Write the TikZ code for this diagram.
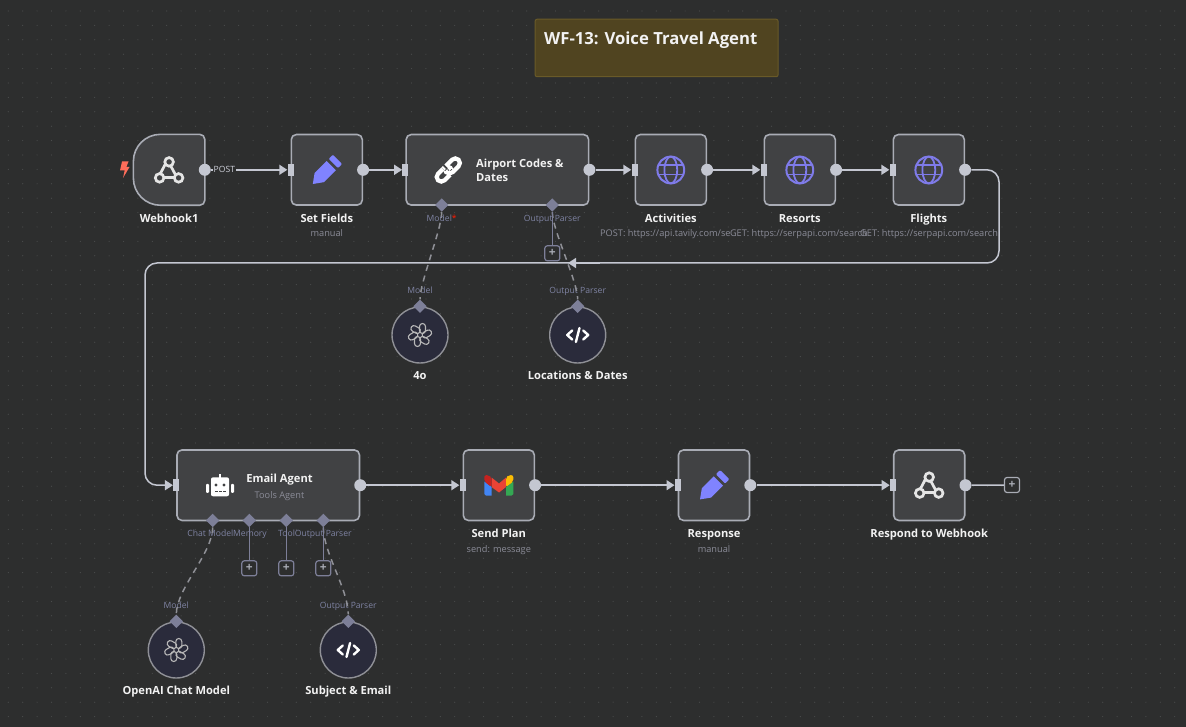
\documentclass[tikz,border=0pt]{standalone}
\usepackage{fontspec}
\setmainfont{Open Sans}
\usetikzlibrary{arrows.meta,shapes.geometric}

\definecolor{canvasbg}{HTML}{2D2E2E}
\definecolor{griddot}{HTML}{4A4C4C}
\definecolor{nodefill}{HTML}{414244}
\definecolor{nodeline}{HTML}{A9ACB5}
\definecolor{flowline}{HTML}{C4C7D1}
\definecolor{subtext}{HTML}{8B8C98}
\definecolor{porttext}{HTML}{7F83A3}
\definecolor{portfill}{HTML}{7D7F98}
\definecolor{roundfill}{HTML}{2A2B3B}
\definecolor{roundline}{HTML}{8F9096}
\definecolor{iconpurple}{HTML}{8083FF}
\definecolor{globepurple}{HTML}{7F7BEA}
\definecolor{notefill}{HTML}{504420}
\definecolor{noteline}{HTML}{695A28}
\definecolor{boltred}{HTML}{FF6D5A}
\definecolor{gmailblue}{HTML}{4285F4}
\definecolor{gmailgreen}{HTML}{34A853}
\definecolor{gmailred}{HTML}{EA4335}
\definecolor{gmaildark}{HTML}{C5221F}
\definecolor{gmailyellow}{HTML}{FBBC04}

\begin{document}
\begin{tikzpicture}[x=1pt, y=-1pt]
    % Define styles
    \tikzset{
        mainnode/.style={
            draw=nodeline,
            fill=nodefill,
            line width=1.6pt,
            rounded corners=5pt,
            minimum width=71pt,
            minimum height=70.5pt,
            inner sep=0pt
        },
        widenode/.style={
            mainnode,
            minimum width=182.5pt
        },
        roundnode/.style={
            circle,
            draw=roundline,
            fill=roundfill,
            line width=1.4pt,
            minimum size=56pt,
            inner sep=0pt
        },
        title/.style={
            font=\fontsize{11.15}{14}\selectfont\bfseries,
            text=white!95!black,
            inner sep=0pt,
            anchor=base
        },
        subtitle/.style={
            font=\fontsize{9.2}{12}\selectfont,
            text=subtext,
            inner sep=0pt,
            anchor=base
        },
        portlabel/.style={
            font=\fontsize{8.6}{11}\selectfont,
            text=porttext,
            inner sep=0pt,
            anchor=base
        },
        outport/.style={
            circle,
            fill=flowline,
            minimum size=12pt,
            inner sep=0pt
        },
        inport/.style={
            rectangle,
            fill=flowline,
            minimum width=6pt,
            minimum height=12pt,
            inner sep=0pt
        },
        subport/.style={
            diamond,
            fill=portfill,
            minimum size=13.5pt,
            inner sep=0pt
        },
        plusbox/.style={
            draw=portfill,
            fill=canvasbg,
            line width=1.2pt,
            rounded corners=2.5pt,
            minimum size=15pt,
            inner sep=0pt,
            text=nodeline,
            font=\fontsize{12}{12}\selectfont\bfseries
        },
        flow/.style={
            draw=flowline,
            line width=1.5pt,
            -{Triangle[length=8pt,width=10pt]}
        },
        plainflow/.style={
            draw=flowline,
            line width=1.5pt
        },
        subflow/.style={
            draw=roundline,
            line width=1.5pt,
            dash pattern=on 6pt off 5pt
        },
        substub/.style={
            draw=portfill,
            line width=1.5pt
        },
        pics/pencilicon/.style={code={
            \fill[iconpurple, line join=round] (-14,14) -- (-12.2,3) -- (-0.2,-9) -- (9,0.2) -- (-3,12.2) -- cycle;
            \fill[iconpurple, rounded corners=1pt] (1.9,-11.1) -- (6.1,-15.3) -- (15.3,-6.1) -- (11.1,-1.9) -- cycle;
        }},
        pics/globeicon/.style={code={
            \draw[globepurple, line width=2pt] (0,0) circle (13.4);
            \draw[globepurple, line width=1.8pt] (0,0) ellipse (6.4 and 13.4);
            \draw[globepurple, line width=1.8pt] (-12.4,-4.6) -- (12.4,-4.6);
            \draw[globepurple, line width=1.8pt] (-12.4,4.6) -- (12.4,4.6);
        }},
        pics/hookicon/.style={code={
            \draw[white!90!black, line width=2.7pt, line cap=round] (-3.5,-7) .. controls (-6,-2) and (-8,2) .. (-10,5);
            \draw[white!90!black, line width=2.7pt, line cap=round] (0,-7.5) -- (7,5.5);
            \draw[white!90!black, line width=2.7pt, line cap=round] (-9.5,7) -- (9,7);
            \draw[white!90!black, line width=2.7pt, fill=nodefill] (0,-8.5) circle (4.3);
            \draw[white!90!black, line width=2.7pt, fill=nodefill] (-9.5,7.5) circle (4.3);
            \draw[white!90!black, line width=2.7pt, fill=nodefill] (9.5,7.5) circle (4.3);
        }},
        pics/linkicon/.style={code={
            \draw[white, line width=4.2pt, rotate=45, rounded corners=4.6pt] (-14.5,-4.6) rectangle (3,4.6);
            \draw[nodefill, line width=6pt, rotate=45] (-2,4.6) -- (3,4.6);
            \draw[white, line width=4.2pt, rotate=45, rounded corners=4.6pt] (-3,-4.6) rectangle (14.5,4.6);
            \draw[nodefill, line width=6pt, rotate=45] (-3,-4.6) -- (1,-4.6);
            \draw[white, line width=4.2pt, rotate=45] (-3,-4.6) -- (-1,-4.6);
        }},
        pics/codeicon/.style={code={
            \draw[white, line width=2.4pt, line cap=round, line join=round] (-5.5,-4.5) -- (-10.5,0) -- (-5.5,4.5);
            \draw[white, line width=2.4pt, line cap=round, line join=round] (5.5,-4.5) -- (10.5,0) -- (5.5,4.5);
            \draw[white, line width=2.4pt, line cap=round] (1.8,-7) -- (-1.8,7);
        }},
        pics/openaiicon/.style={code={
            \foreach \ang in {0,60,...,300}
                \draw[white!72!black, line width=1.1pt, rotate=\ang, rounded corners=3pt] (-0.5,-11.5) rectangle (5.5,-1.5);
        }},
        pics/roboticon/.style={code={
            \fill[white, rounded corners=2pt] (-9,-9.5) rectangle (9,9.5);
            \fill[white] (-0.8,-13) rectangle (0.8,-9);
            \fill[white, rounded corners=1pt] (-14,-3) rectangle (-11,6);
            \fill[white, rounded corners=1pt] (11,-3) rectangle (14,6);
            \fill[nodefill] (-4,-1.8) circle (1.7);
            \fill[nodefill] (4,-1.8) circle (1.7);
            \fill[nodefill] (-5.5,4) rectangle (-2.5,5.6);
            \fill[nodefill] (-1.5,4) rectangle (1.5,5.6);
            \fill[nodefill] (2.5,4) rectangle (5.5,5.6);
        }},
        pics/gmailicon/.style={code={
            \fill[gmailblue] (-14.7,-4) -- (-7.5,1.5) -- (-7.5,10.2) -- (-13,10.2) -- (-14.7,8.5) -- cycle;
            \fill[gmailgreen] (14.3,-4) -- (7,1.5) -- (7,10.2) -- (12.5,10.2) -- (14.3,8.5) -- cycle;
            \fill[gmailred] (-7.5,-8) -- (0,-2) -- (7,-8) -- (7,1.5) -- (0,7) -- (-7.5,1.5) -- cycle;
            \fill[gmaildark, rounded corners=2pt] (-14.7,-4) -- (-14.7,-10.3) -- (-10,-10.3) -- (-7.5,-8) -- (-7.5,1.5) -- cycle;
            \fill[gmailyellow, rounded corners=2pt] (14.3,-4) -- (14.3,-10.3) -- (9.5,-10.3) -- (7,-8) -- (7,1.5) -- cycle;
        }}
    }

    % Canvas and dot grid
    \fill[canvasbg] (0,0) rectangle (1186,727);
    \useasboundingbox (0,0) rectangle (1186,727);
    \foreach \i in {0,...,82}
        \foreach \j in {0,...,50}
            \fill[griddot] ({8.3+14.4*\i},{11+14.4*\j}) circle (0.6);

    % Sticky note
    \node[draw=noteline, fill=notefill, line width=1pt, rounded corners=2pt, minimum width=243pt, minimum height=57.5pt] (note) at (656.6,48) {};
    \node[font=\fontsize{16.7}{19}\selectfont\bfseries, text=white!95!black, anchor=base west, inner sep=0pt] (notetitle) at (544,44.3) {WF-13: Voice Travel Agent};

    % Webhook trigger
    \node[minimum width=71pt, minimum height=70.5pt, inner sep=0pt] (webhook) at (169.1,169.8) {};
    \draw[draw=nodeline, fill=nodefill, line width=1.6pt] (webhook.north)
        [rounded corners=5pt] -- (webhook.north east) -- (webhook.south east) -- (webhook.south)
        [rounded corners=27pt] -- (webhook.south west) -- (webhook.north west) [sharp corners] -- (webhook.north);
    \node[title] (webhooktitle) at (169.1,222.3) {Webhook1};
    \node[outport] (webhookout) at (webhook.east) {};
    \fill[boltred] (122,161.5) -- (128.5,161.5) -- (126.3,167) -- (129.5,167) -- (123,178) -- (124.7,170.5) -- (120,170.5) -- cycle;

    % Square nodes
    \foreach \name/\cx/\cy/\ttl/\sub in {
        setfields/326.8/169.8/Set Fields/manual,
        activities/670.8/169.8/Activities/{},
        resorts/799.8/169.8/Resorts/{},
        flights/928.8/169.8/Flights/{},
        sendplan/498.8/485.2/Send Plan/{send: message},
        response/714/485.2/Response/manual,
        respond/929.2/485.2/Respond to Webhook/{}}
    {
        \node[mainnode] (\name) at (\cx,\cy) {};
        \node[outport] (\name out) at (\name.east) {};
        \node[inport] (\name in) at (\name.west) {};
        \node[title] (\name title) at (\cx,\cy+52.3) {\ttl};
        \node[subtitle] (\name sub) at (\cx,\cy+67.1) {\sub};
    }

    % Wide nodes
    \node[widenode] (airport) at (497.4,169.8) {};
    \node[outport] (airportout) at (airport.east) {};
    \node[inport] (airportin) at (airport.west) {};
    \node[title, anchor=west, align=left] (airporttitle) at (476,170) {Airport Codes \&\\Dates};
    \node[widenode] (email) at (268.2,485.2) {};
    \node[outport] (emailout) at (email.east) {};
    \node[inport] (emailin) at (email.west) {};
    \node[title] (emailtitle) at (279.5,482.4) {Email Agent};
    \node[subtitle] (emailsub) at (279.5,498.2) {Tools Agent};

    % Node subtitles that run into one another
    \node[subtitle, anchor=base west] (activitiesurl) at (600,237) {POST: https://api.tavily.com/se};
    \node[subtitle, anchor=base west] (resortsurl) at (729.8,237) {GET: https://serpapi.com/search};
    \node[subtitle, anchor=base west] (flightsurl) at (860,237) {GET: https://serpapi.com/search};

    % Round nodes
    \foreach \name/\cx/\cy/\ttl/\lbl in {
        gptfour/420/335/4o/Model,
        locations/577.7/335/Locations \& Dates/Output Parser,
        chatmodel/176.3/650/OpenAI Chat Model/Model,
        subject/348.3/650/Subject \& Email/Output Parser}
    {
        \node[roundnode] (\name) at (\cx,\cy) {};
        \node[subport] (\name port) at (\name.north) {};
        \node[portlabel] (\name label) at (\cx,\cy-41.6) {\lbl};
        \node[title] (\name title) at (\cx,\cy+44) {\ttl};
    }

    % Sub ports below the wide nodes
    \foreach \name/\cx/\cy in {
        airmodel/441.7/205,
        airparser/552.3/205,
        emailmodel/212.7/520.4,
        emailmemory/249.3/520.4,
        emailtool/286.3/520.4,
        emailparser/323.3/520.4}
        \node[subport] (\name) at (\cx,\cy) {};

    % Dashed sub connections
    \draw[subflow] (airmodel) to[out=-90, in=90, looseness=0.5] (gptfourport);
    \draw[subflow] (airparser) to[out=-90, in=90, looseness=0.5] (locationsport);
    \draw[subflow] (emailmodel) to[out=-90, in=90, looseness=0.7] (chatmodelport);
    \draw[subflow] (emailparser) to[out=-90, in=90, looseness=0.7] (subjectport);

    % Plus boxes
    \foreach \name/\cx/\cy/\from in {
        airplus/552.3/253.3/airparser,
        memoryplus/249.3/568.3/emailmemory,
        toolplus/286.3/568.3/emailtool,
        parserplus/323.3/568.3/emailparser}
    {
        \node[plusbox] (\name) at (\cx,\cy) {+};
        \draw[substub] (\from) -- (\name);
    }
    \node[plusbox, draw=nodeline] (endplus) at (1012,485) {+};

    % Port labels
    \node[portlabel] (airmodellabel) at (441.7,221.7) {Model\textcolor{red!80!orange}{*}};
    \node[portlabel] (airparserlabel) at (552.3,221.7) {Output Parser};
    \node[portlabel] (chatmodellabel) at (210.4,536.7) {Chat Model};
    \node[portlabel] (memorylabel) at (250,536.7) {Memory};
    \node[portlabel] (toollabel) at (286.6,536.7) {Tool};
    \node[portlabel] (parserlabel) at (323.3,536.7) {Output Parser};

    % Main connections
    \draw[flow] (webhookout) -- node[pos=0.175, fill=canvasbg, inner sep=0.5pt, font=\fontsize{8.6}{11}\selectfont, text=flowline!85!white] (postlabel) {POST} (setfieldsin);
    \foreach \a/\b in {setfields/airport, airport/activities, activities/resorts, resorts/flights, email/sendplan, sendplan/response, response/respond}
        \draw[flow] (\a out) -- (\b in);
    \draw[plainflow] (respondout) -- (endplus);

    % Long way back from the first row
    \coordinate (turnA) at (999,169.8);
    \coordinate (turnB) at (999,263);
    \coordinate (turnC) at (145,263);
    \coordinate (turnD) at (145,485.2);
    \coordinate (midfrom) at (600,263);
    \coordinate (midtip) at (568,263);
    \draw[flow, rounded corners=12pt] (flightsout) -- (turnA) -- (turnB) -- (turnC) -- (turnD) -- (emailin);
    \draw[flow] (midfrom) -- (midtip);

    % Icons
    \pic at (169.1,170.4) {hookicon};
    \pic at (929.2,485.6) {hookicon};
    \foreach \cx/\cy in {326.8/170, 714/485.4}
        \pic at (\cx,\cy) {pencilicon};
    \foreach \cx in {670.8,799.8,928.8}
        \pic at (\cx,170) {globeicon};
    \pic at (448.3,170) {linkicon};
    \pic at (220,486.8) {roboticon};
    \pic at (499,485.5) {gmailicon};
    \pic at (420,335) {openaiicon};
    \pic at (176.3,650) {openaiicon};
    \pic at (577.7,335) {codeicon};
    \pic at (348.3,650) {codeicon};
\end{tikzpicture}
\end{document}
